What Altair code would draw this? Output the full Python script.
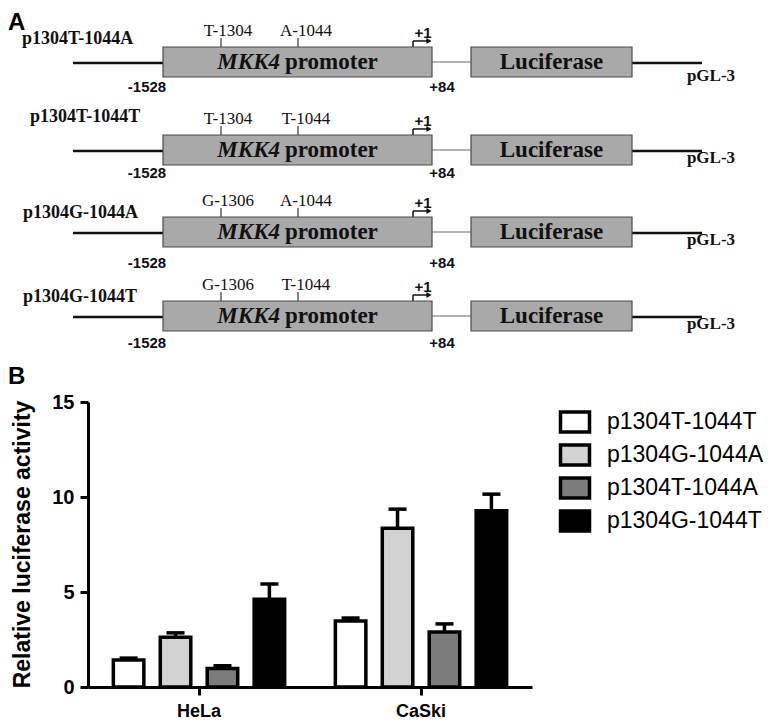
import altair as alt
import pandas as pd

# ---------------- Panel B values ----------------
cells = ["HeLa", "CaSki"]
constructs = ["p1304T-1044T", "p1304G-1044A", "p1304T-1044A", "p1304G-1044T"]
hela_mean = [1.42, 2.62, 0.98, 4.62]
hela_top = [1.52, 2.85, 1.12, 5.42]
caski_mean = [3.47, 8.35, 2.90, 9.27]
caski_top = [3.63, 9.36, 3.32, 10.15]
bar_fills = ["#ffffff", "#d2d2d2", "#7c7c7c", "#000000"]
y_ticks = [0, 5, 10, 15]

# ---------------- Panel A content ----------------
diagram_names = ["p1304T-1044A", "p1304T-1044T", "p1304G-1044A", "p1304G-1044T"]
site_a = ["T-1304", "T-1304", "G-1306", "G-1306"]
site_b = ["A-1044", "T-1044", "A-1044", "T-1044"]
start_label = "-1528"
end_label = "+84"
tss_label = "+1"
vector_label = "pGL-3"

# ---------------- layout of the schematic (page pixels) ----------------
row_top = [47, 135, 217, 301]
name_x = [22, 30, 23, 23]
name_y = [39, 117, 213, 297]
num_y = [87, 173, 263, 343]
pgl_y = [76, 158, 240, 324]
BOX_H = 30
PROM = (163, 432)
LUC = (471, 632)
LEFT_X = 73
RIGHT_X = 702
SITE_X = (221, 298)
SITE_LX = (228, 306)
TSS_X = 413

rects, rules, heads = [], [], []
t_names, t_sites, t_mkk, t_prom, t_luc, t_nums, t_pgl = [], [], [], [], [], [], []
for i in range(4):
    T = row_top[i]
    c = T + BOX_H / 2
    rects.append(dict(x=PROM[0], x2=PROM[1], y=T, y2=T + BOX_H))
    rects.append(dict(x=LUC[0], x2=LUC[1], y=T, y2=T + BOX_H))
    rules.append(dict(x=LEFT_X, x2=PROM[0], y=c + 1, y2=c + 1, w=2.5, c="#111111"))
    rules.append(dict(x=LUC[1], x2=RIGHT_X, y=c + 1, y2=c + 1, w=2.5, c="#111111"))
    rules.append(dict(x=PROM[1], x2=LUC[0], y=c, y2=c, w=1.5, c="#9a9a9a"))
    for sx in SITE_X:
        rules.append(dict(x=sx, x2=sx, y=T - 9, y2=T, w=1.3, c="#444444"))
    rules.append(dict(x=TSS_X, x2=TSS_X, y=T - 6, y2=T, w=1.5, c="#111111"))
    rules.append(dict(x=TSS_X, x2=PROM[1] - 4, y=T - 6, y2=T - 6, w=1.5, c="#111111"))
    heads.append(dict(x=PROM[1] - 3, y=T - 6))
    t_names.append(dict(x=name_x[i], y=name_y[i], t=diagram_names[i]))
    t_sites.append(dict(x=SITE_LX[0], y=T - 16, t=site_a[i]))
    t_sites.append(dict(x=SITE_LX[1], y=T - 16, t=site_b[i]))
    t_mkk.append(dict(x=280, y=c, t="MKK4"))
    t_prom.append(dict(x=285, y=c, t="promoter"))
    t_luc.append(dict(x=(LUC[0] + LUC[1]) / 2, y=c, t="Luciferase"))
    t_nums.append(dict(x=147, y=num_y[i], t=start_label))
    t_nums.append(dict(x=442, y=num_y[i], t=end_label))
    t_nums.append(dict(x=423, y=T - 14, t=tss_label))
    t_pgl.append(dict(x=711, y=pgl_y[i], t=vector_label))

panel_letters = [dict(x=8, y=11, t="A"), dict(x=8, y=365, t="B")]

xs = alt.Scale(domain=[8, 764], range=[0, 756], nice=False, zero=False)
ys = alt.Scale(domain=[8, 714], range=[0, 706], nice=False, zero=False)


def X(f="x"):
    return alt.X(f + ":Q", scale=xs, axis=None)


def Y(f="y"):
    return alt.Y(f + ":Q", scale=ys, axis=None)


def text_layer(rows, **kw):
    return alt.Chart(pd.DataFrame(rows)).mark_text(**kw).encode(x=X(), y=Y(), text="t:N")


boxes = alt.Chart(pd.DataFrame(rects)).mark_rect(
    fill="#a9a9a9", stroke="#4a4a4a", strokeWidth=1.2
).encode(x=X(), x2="x2:Q", y=Y(), y2="y2:Q")

lines = alt.Chart(pd.DataFrame(rules)).mark_rule().encode(
    x=X(), x2="x2:Q", y=Y(), y2="y2:Q",
    strokeWidth=alt.StrokeWidth("w:Q", scale=None),
    color=alt.Color("c:N", scale=None),
)

arrowheads = alt.Chart(pd.DataFrame(heads)).mark_point(
    shape="triangle-right", filled=True, size=35, color="#111111", opacity=1
).encode(x=X(), y=Y())

serif = "Liberation Serif"
sans = "Liberation Sans"
diagram = alt.layer(
    lines,
    boxes,
    arrowheads,
    text_layer(t_names, font=serif, fontWeight="bold", fontSize=18, align="left", baseline="middle", color="#111"),
    text_layer(t_sites, font=serif, fontSize=17, align="center", baseline="middle", color="#111"),
    text_layer(t_mkk, font=serif, fontWeight="bold", fontStyle="italic", fontSize=23, align="right", baseline="middle", color="#111"),
    text_layer(t_prom, font=serif, fontWeight="bold", fontSize=23, align="left", baseline="middle", color="#111"),
    text_layer(t_luc, font=serif, fontWeight="bold", fontSize=23, align="center", baseline="middle", color="#111"),
    text_layer(t_nums, font=sans, fontWeight="bold", fontSize=15, align="center", baseline="middle", color="#111"),
    text_layer(t_pgl, font=serif, fontWeight="bold", fontSize=17, align="center", baseline="middle", color="#111"),
    text_layer(panel_letters, font=sans, fontWeight="bold", fontSize=24, align="left", baseline="top", color="#000"),
)

# ---------------- Panel B chart ----------------
rows_b = []
for cell, means, tops in [("HeLa", hela_mean, hela_top), ("CaSki", caski_mean, caski_top)]:
    for k, name in enumerate(constructs):
        rows_b.append(dict(cell=cell, construct=name, mean=means[k], top=tops[k]))
df_b = pd.DataFrame(rows_b)

xb = alt.Scale(domain=cells, range=[80, 524], paddingInner=0, paddingOuter=0)
xo = alt.Scale(domain=constructs, paddingInner=0.35, paddingOuter=0.54)
yb = alt.Scale(domain=[0, 15], range=[679, 394], nice=False, zero=True)

x_axis = alt.Axis(
    title=None, offset=-27, domainColor="black", domainWidth=3, tickColor="black",
    tickWidth=3, tickSize=8, labelFont=sans, labelFontWeight="bold", labelFontSize=18,
    labelColor="black", labelPadding=7, labelAngle=0, grid=False,
)
y_axis = alt.Axis(
    values=y_ticks, offset=-80, domainColor="black", domainWidth=3, tickColor="black",
    tickWidth=3, tickSize=8, labelFont=sans, labelFontWeight="bold", labelFontSize=20,
    labelColor="black", labelPadding=6, grid=False,
    title="Relative luciferase activity", titleFont=sans, titleFontSize=23,
    titleFontWeight="bold", titleColor="black", titleAngle=270, titleX=-66, titleY=536,
    titleAlign="center", titleBaseline="middle",
)

base = alt.Chart(df_b).encode(
    x=alt.X("cell:N", scale=xb, axis=x_axis, sort=cells),
    xOffset=alt.XOffset("construct:N", scale=xo, sort=constructs),
)

bars = base.mark_bar(stroke="black", strokeWidth=3.5).encode(
    y=alt.Y("mean:Q", scale=yb, axis=y_axis),
    fill=alt.Fill(
        "construct:N",
        scale=alt.Scale(domain=constructs, range=bar_fills),
        sort=constructs,
        legend=alt.Legend(
            title=None, orient="none", legendX=555, legendY=402,
            symbolType="M-1.45,-1L1.45,-1L1.45,1L-1.45,1Z", symbolSize=400,
            symbolStrokeColor="black", symbolStrokeWidth=3.5, symbolOpacity=1,
            labelFont=sans, labelFontSize=23, labelColor="black", labelOffset=20,
            rowPadding=-1, labelLimit=300,
        ),
    ),
)
err = base.mark_rule(color="black", strokeWidth=3.5).encode(y=alt.Y("mean:Q", scale=yb), y2="top:Q")
caps = base.mark_tick(color="black", thickness=3.5, size=18, opacity=1).encode(y=alt.Y("top:Q", scale=yb))

panel_b = alt.layer(err, caps, bars)

chart = (
    alt.layer(diagram, panel_b)
    .resolve_scale(x="independent", y="independent")
    .properties(
        width=756, height=706,
        padding={"left": 0, "top": 0, "right": 0, "bottom": 8},
        autosize=alt.AutoSizeParams(type="none"),
    )
    .configure_view(stroke=None)
)

chart.save("out.html", embed_options={"renderer": "svg", "actions": False})
